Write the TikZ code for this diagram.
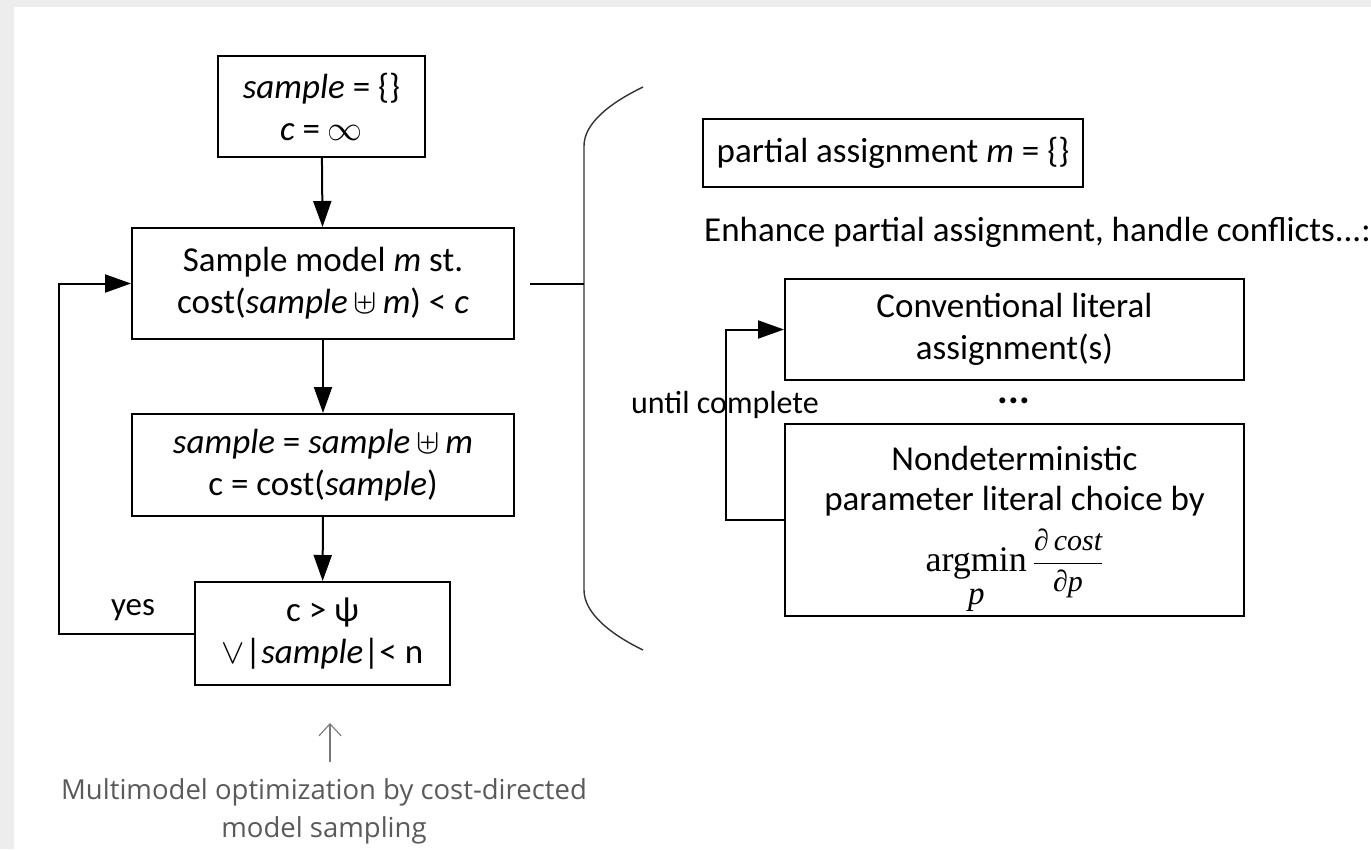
\RequirePackage{fix-cm}
\documentclass[tikz,border=0pt]{standalone}
\usepackage{amsmath}
\usepackage[no-math]{fontspec}
\setmainfont{Carlito}
\newfontfamily\capfont{Open Sans}
\newfontfamily\libserif{Liberation Serif}
\usetikzlibrary{arrows.meta}
\definecolor{capgray}{RGB}{90,90,90}
\definecolor{arrgray}{RGB}{120,120,120}
\tikzset{
  box/.style={draw=black, line width=2pt, align=center, inner sep=0pt,
    font=\fontsize{35}{42}\selectfont},
  lbl/.style={font=\fontsize{35}{42}\selectfont, inner sep=0pt},
  conn/.style={draw=black, line width=2pt},
  arr/.style={conn, -{Triangle[length=26pt,width=18pt]}},
  brk/.style={draw=black!80, line width=1.4pt},
}
\begin{document}
\begin{tikzpicture}[x=1pt,y=-1pt]
\useasboundingbox (0,0) rectangle (1371,849);
\fill[black!7] (0,0) rectangle (1371,849);
\fill[white] (14,7) rectangle (1371,849);

% left flow
\node[box, minimum width=207pt, minimum height=101pt] (b1) at (321.5,106.5)
  {\textit{sample} = \{\}\\ \textit{c} = $\infty$};
\node[box, minimum width=382pt, minimum height=111pt] (b2) at (323,283.5)
  {Sample model \textit{m} st.\\ cost(\textit{sample}\,$\uplus$\,\textit{m}) < \textit{c}};
\node[box, minimum width=382pt, minimum height=102pt] (b3) at (323,465)
  {\textit{sample} = \textit{sample}\,$\uplus$\,\textit{m}\\ c = cost(\textit{sample})};
\node[box, minimum width=255pt, minimum height=103pt] (b4) at (322.5,633.5)
  {c > ψ\\ $\vee$|\textit{sample}|< n};

\draw[arr] (b1) -- (b2);
\draw[arr] (b2) -- (b3);
\draw[arr] (b3) -- (b4);
\draw[arr] (b4.west) -- ++(-135,0) |- (b2.west);
\node[lbl, font=\fontsize{33}{40}\selectfont] (yes) at (133,610) {yes};

% caption
\coordinate (ua) at (330,762);
\coordinate (ub) at (330,723);
\draw[arrgray, line width=1.1pt, -{Straight Barb[length=12pt,width=22pt,line width=1.1pt]}] (ua) -- (ub);
\node[font=\capfont\fontsize{27.5}{38}\selectfont, text=capgray, align=center] (cap) at (324,811)
  {Multimodel optimization by cost-directed\\ model sampling};

% bracket
\coordinate (brk) at (584,283.5);
\draw[brk] (643,87) .. controls (608,104) and (584,124) .. (584,146) -- (584,590)
  .. controls (584,612) and (608,633) .. (643,650);
\draw[conn] ([xshift=15pt]b2.east) -- (brk);

% right side
\node[box, minimum width=380pt, minimum height=68pt] (pa) at (893,153)
  {partial assignment \textit{m} = \{\}};
\node[lbl, anchor=west] (enh) at (704,232) {Enhance partial assignment, handle conflicts...:};
\node[box, minimum width=459pt, minimum height=101pt] (cv) at (1014.5,329.5)
  {Conventional literal\\ assignment(s)};
\node[lbl, font=\bfseries\fontsize{40}{42}\selectfont] (dots) at (1014,401) {...};
\node[box, minimum width=459pt, minimum height=192pt, font=\fontsize{35}{40}\selectfont] (nd) at (1014.5,519.5)
  {\rule{0pt}{46pt}Nondeterministic\\ parameter literal choice by\\[12pt]
   $\displaystyle\mathop{\text{\libserif\fontsize{36}{38}\selectfont argmin}}\limits_{\rule{0pt}{22pt}\text{\libserif\itshape\fontsize{33}{34}\selectfont p}}$\,%
   {\libserif\itshape\fontsize{30}{30}\selectfont$\displaystyle\frac{\text{∂\,cost}}{\text{∂p}}$}};
\draw[arr] (nd.west) -- ++(-58,0) |- (cv.west);
\node[lbl, font=\fontsize{32}{40}\selectfont] (until) at (725,405) {until complete};
\end{tikzpicture}
\end{document}
